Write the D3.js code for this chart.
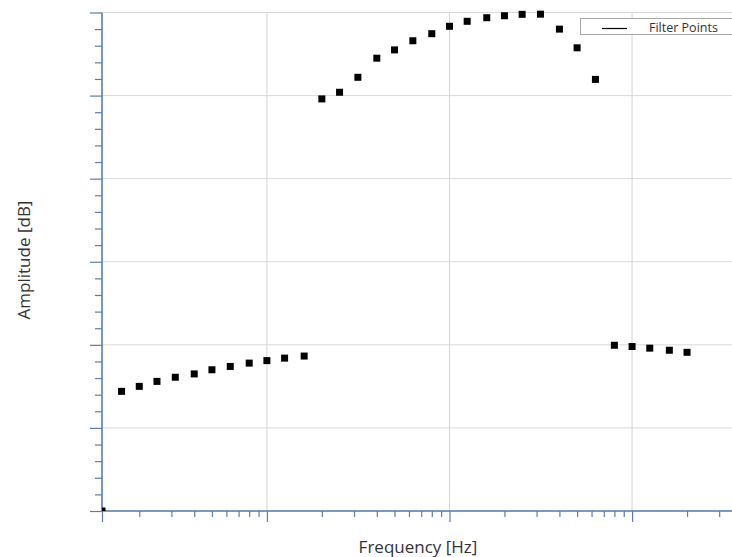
<!DOCTYPE html>
<html>
<head>
<meta charset="utf-8">
<script src="https://cdn.jsdelivr.net/npm/d3@7"></script>
<style>
  html, body { margin: 0; padding: 0; background: #fff; }
  svg { display: block; font-family: "Open Sans", "Noto Sans", sans-serif; }
</style>
</head>
<body>
<svg id="chart" width="732" height="557"></svg>
<script>
// Data: one-third-octave filter points (Hz) and amplitude (dB, arbitrary reference)
const frequencies = [12.5, 16, 20, 25, 31.5, 40, 50, 63, 80, 100, 125, 160,
  200, 250, 315, 400, 500, 630, 800, 1000, 1250, 1600, 2000, 2500, 3150, 4000, 5000, 6300,
  8000, 10000, 12500, 16000, 20000];
const amplitudes = [-60, -45.6, -45.0, -44.4, -43.9, -43.5, -43.0, -42.6, -42.2, -41.9, -41.6, -41.35,
  -10.4, -9.6, -7.8, -5.5, -4.5, -3.4, -2.55, -1.66, -1.06, -0.63, -0.39, -0.22, -0.2, -2.0, -4.25, -8.05,
  -40.05, -40.2, -40.4, -40.65, -40.9];
const xDomain = [12.5, 40000];
const yDomain = [-60, 0];
const yMajorTicks = [-60, -50, -40, -30, -20, -10, 0];
const xMajorGrid = [100, 1000, 10000];
const legendLabel = "Filter Points";
const xTitle = "Frequency [Hz]";
const yTitle = "Amplitude [dB]";

(function () {
const svg = d3.select("#chart");
const mLeft = 102, mTop = 12.5, mBottom = 511, mRight = 742;
const axisColor = "#5b7db1";

const x = d3.scaleLog().domain(xDomain).range([mLeft, mRight]);
const y = d3.scaleLinear().domain(yDomain).range([mBottom, mTop]);

svg.append("defs").append("clipPath").attr("id", "plotclip")
  .append("rect").attr("x", mLeft).attr("y", mTop - 6).attr("width", mRight - mLeft).attr("height", mBottom - mTop + 6);

// gridlines
const grid = svg.append("g");
grid.selectAll("line.h").data(yMajorTicks).join("line").attr("class", "h")
  .attr("x1", mLeft).attr("x2", 732)
  .attr("y1", d => y(d)).attr("y2", d => y(d))
  .attr("stroke", "#d9d9d9").attr("stroke-width", 1);
grid.selectAll("line.v").data(xMajorGrid).join("line").attr("class", "v")
  .attr("x1", d => x(d)).attr("x2", d => x(d))
  .attr("y1", mTop).attr("y2", mBottom)
  .attr("stroke", "#d4d4d4").attr("stroke-width", 1);

// y axis: major + minor ticks, no labels
const yMinor = d3.range(yDomain[0], yDomain[1] + 0.001, 2).filter(v => Math.abs(v % 10) > 0.01);
const gy = svg.append("g").attr("transform", `translate(${mLeft},0)`)
  .call(d3.axisLeft(y).tickValues(yMajorTicks).tickSize(12).tickFormat(""));
gy.select(".domain").remove();
const gy2 = svg.append("g").attr("transform", `translate(${mLeft},0)`)
  .call(d3.axisLeft(y).tickValues(yMinor).tickSize(7).tickFormat(""));
gy2.select(".domain").remove();

// x axis: decades major, 2..9 minor
const xMinor = [];
[10, 100, 1000, 10000].forEach(dec => { for (let k = 2; k <= 9; k++) { const v = dec * k; if (v > xDomain[0] && v < xDomain[1]) xMinor.push(v); } });
const xMajor = [12.5, 100, 1000, 10000];
const gx = svg.append("g").attr("transform", `translate(0,${mBottom})`)
  .call(d3.axisBottom(x).tickValues(xMajor).tickSize(11).tickFormat(""));
gx.select(".domain").remove();
const gx2 = svg.append("g").attr("transform", `translate(0,${mBottom})`)
  .call(d3.axisBottom(x).tickValues(xMinor).tickSize(6).tickFormat(""));
gx2.select(".domain").remove();

svg.selectAll(".tick line").attr("stroke", axisColor).attr("stroke-width", 1.2);

// axis lines
svg.append("line").attr("x1", mLeft).attr("x2", mLeft).attr("y1", mTop).attr("y2", mBottom)
  .attr("stroke", axisColor).attr("stroke-width", 1.6);
svg.append("line").attr("x1", mLeft).attr("x2", 732).attr("y1", mBottom).attr("y2", mBottom)
  .attr("stroke", axisColor).attr("stroke-width", 1.6);

// markers
const data = frequencies.map((f, i) => ({ f, a: amplitudes[i] }));
const ms = 7;
svg.append("g").attr("clip-path", "url(#plotclip)")
  .selectAll("rect").data(data).join("rect")
  .attr("x", d => x(d.f) - ms / 2).attr("y", d => y(d.a) - ms / 2)
  .attr("width", ms).attr("height", ms).attr("fill", "#000");

// legend
const lg = svg.append("g");
lg.append("rect").attr("x", 580.5).attr("y", 18.5).attr("width", 170).attr("height", 16)
  .attr("fill", "#fff").attr("stroke", "#a6a6a6").attr("stroke-width", 1);
lg.append("line").attr("x1", 602).attr("x2", 627).attr("y1", 28.5).attr("y2", 28.5)
  .attr("stroke", "#000").attr("stroke-width", 1.2);
lg.append("text").attr("x", 649).attr("y", 32.3).attr("font-size", 12.5).attr("fill", "#333")
  .text(legendLabel);

// axis titles
svg.append("text").attr("x", 418).attr("y", 553).attr("text-anchor", "middle")
  .attr("font-size", 17).attr("fill", "#333").text(xTitle);
svg.append("text").attr("transform", "translate(30,260) rotate(-90)").attr("text-anchor", "middle")
  .attr("font-size", 17).attr("fill", "#333").text(yTitle);
})();
</script>
</body>
</html>
